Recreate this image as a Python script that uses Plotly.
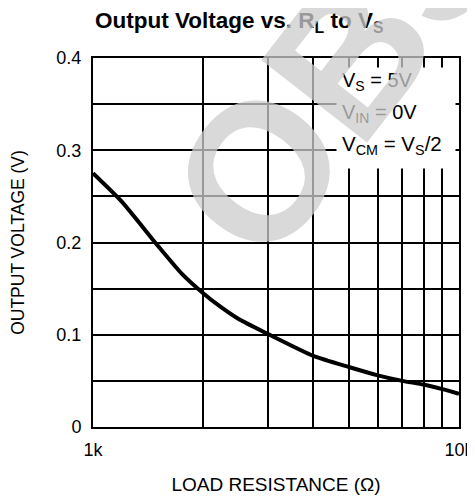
import plotly.graph_objects as go

# Data
load_resistance = [1000, 1200, 1500, 1750, 2000, 2200, 2500, 3000, 4000, 5000, 6000, 7000, 8000, 9000, 10000]
output_voltage = [0.275, 0.244, 0.197, 0.166, 0.145, 0.132, 0.117, 0.101, 0.077, 0.065, 0.056, 0.050, 0.046, 0.041, 0.036]

x_tick_vals = [1000, 2000, 3000, 4000, 5000, 6000, 7000, 8000, 9000, 10000]
x_tick_text = ["1k", "", "", "", "", "", "", "", "", "10k"]
y_tick_vals = [0, 0.05, 0.1, 0.15, 0.2, 0.25, 0.3, 0.35, 0.4]
y_tick_text = ["0", "", "0.1", "", "0.2", "", "0.3", "", "0.4"]

FONT = "Liberation Sans, Arial, Helvetica, sans-serif"

# the page body has an 8px margin, so the figure is drawn 8px smaller
W, H = 467, 492
PL, PT, PR, PB = 85, 50, 16, 73
PW, PH = W - PL - PR, H - PT - PB


def px(xpage):
    return (xpage - 8 - PL) / PW


def py(ypage):
    return (H - PB - (ypage - 8)) / PH


fig = go.Figure()
fig.add_trace(go.Scatter(
    x=load_resistance, y=output_voltage, mode="lines",
    line=dict(color="black", width=4, shape="spline", smoothing=0.6),
    hoverinfo="skip", showlegend=False,
))

axis_common = dict(
    showgrid=True, gridcolor="black", gridwidth=1.5,
    showline=True, linecolor="black", linewidth=2, mirror=True,
    ticks="", zeroline=False,
    tickfont=dict(family=FONT, size=18, color="black"),
)

fig.update_xaxes(
    type="log", range=[3, 4],
    tickvals=x_tick_vals, ticktext=x_tick_text,
    ticklabelstandoff=5,
    title=dict(text="LOAD RESISTANCE (Ω)", font=dict(family=FONT, size=19, color="black"), standoff=19),
    **axis_common,
)
fig.update_yaxes(
    range=[0, 0.4],
    tickvals=y_tick_vals, ticktext=y_tick_text,
    ticklabelstandoff=6,
    title=dict(text="OUTPUT VOLTAGE (V)", font=dict(family=FONT, size=17.5, color="black"), standoff=30),
    **axis_common,
)

annotations = [
    # title
    dict(text="<b>Output Voltage vs. R<sub>L</sub> to V<sub>S</sub></b>",
         xref="paper", yref="paper", x=px(239), y=py(22),
         xanchor="center", yanchor="middle", showarrow=False,
         font=dict(family=FONT, size=22.5, color="black")),
    # white box behind the conditions
    dict(text=" ", xref="paper", yref="paper", x=px(396), y=py(118),
         xanchor="center", yanchor="middle", showarrow=False,
         width=118, height=100, bgcolor="white", borderpad=0),
    dict(text="V<sub>S</sub> = 5V", xref="paper", yref="paper", x=px(340), y=py(81),
         xanchor="left", yanchor="middle", showarrow=False,
         font=dict(family=FONT, size=20, color="black")),
    dict(text="V<sub>IN</sub> = 0V", xref="paper", yref="paper", x=px(340), y=py(113),
         xanchor="left", yanchor="middle", showarrow=False,
         font=dict(family=FONT, size=20, color="black")),
    dict(text="V<sub>CM</sub> = V<sub>S</sub>/2", xref="paper", yref="paper", x=px(340), y=py(145),
         xanchor="left", yanchor="middle", showarrow=False,
         font=dict(family=FONT, size=20.5, color="black")),
    # watermark
    dict(text="<b>OBSOLETE</b>", xref="paper", yref="paper",
         x=px(542), y=py(-192),
         xanchor="center", yanchor="middle", showarrow=False, textangle=-52,
         font=dict(family=FONT, size=195, color="rgba(204,204,204,0.75)")),
]

fig.update_layout(
    width=W, height=H,
    margin=dict(l=PL, r=PR, t=PT, b=PB, autoexpand=False),
    paper_bgcolor="white", plot_bgcolor="white",
    annotations=annotations,
    font=dict(family=FONT, color="black"),
)

fig.write_html("out.html")
